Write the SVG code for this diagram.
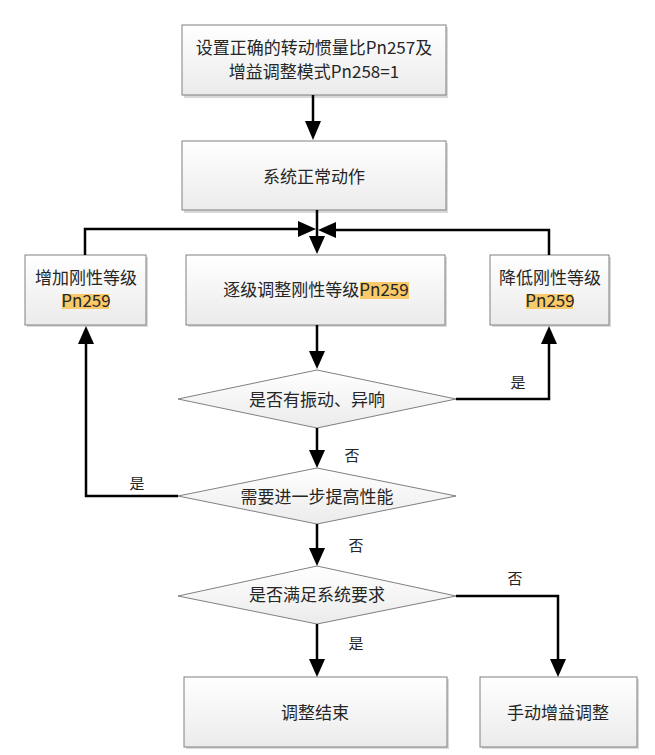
<svg xmlns="http://www.w3.org/2000/svg" width="655" height="755" viewBox="0 0 655 755">
<defs>
<linearGradient id="g" x1="0" y1="0" x2="0" y2="1">
<stop offset="0" stop-color="#ffffff"/>
<stop offset="1" stop-color="#ebebeb"/>
</linearGradient>
</defs>
<style>
.box{fill:url(#g);stroke:#808080;stroke-width:1}
.sh{fill:#d9d9d9}
.t{font-family:"Noto Sans CJK SC","Microsoft YaHei",sans-serif;font-size:17px;fill:#262626;text-anchor:middle}
.lb{font-family:"Noto Sans CJK SC",sans-serif;font-size:15px;fill:#262626;text-anchor:middle}
.hl{fill:#f9c96a}
.c{fill:none;stroke:#000;stroke-width:2.5}
.ahd{fill:#000}
</style>
<rect width="655" height="755" fill="#fff"/>

<g id="n1">
<rect class="sh" x="184" y="27" width="264" height="71"/>
<rect class="box" x="182" y="25" width="264" height="70"/>
<text class="t" x="314" y="54">设置正确的转动惯量比Pn257及</text>
<text class="t" x="314" y="78">增益调整模式Pn258=1</text>
</g>
<g id="n2">
<rect class="sh" x="184" y="143" width="264" height="70"/>
<rect class="box" x="182" y="141" width="264" height="69"/>
<text class="t" x="314" y="183">系统正常动作</text>
</g>
<g id="n3">
<rect class="sh" x="27" y="257" width="121" height="70"/>
<rect class="box" x="25" y="255" width="121" height="70"/>
<text class="t" x="86" y="284">增加刚性等级</text>
<rect class="hl" x="62" y="294" width="47" height="15"/>
<text class="t" x="86" y="307">Pn259</text>
</g>
<g id="n4">
<rect class="sh" x="188" y="257" width="259" height="70"/>
<rect class="box" x="186" y="255" width="259" height="70"/>
<rect class="hl" x="360" y="282" width="49" height="17"/>
<text class="t" x="316" y="296">逐级调整刚性等级Pn259</text>
</g>
<g id="n5">
<rect class="sh" x="492" y="257" width="119" height="70"/>
<rect class="box" x="490" y="255" width="119" height="70"/>
<text class="t" x="550" y="284">降低刚性等级</text>
<rect class="hl" x="526" y="294" width="47" height="15"/>
<text class="t" x="550" y="307">Pn259</text>
</g>
<g id="d1">
<polygon points="178,399 317,370 456,399 317,428" fill="url(#g)" stroke="#808080"/>
<text class="t" x="317" y="406">是否有振动、异响</text>
</g>
<g id="d2">
<polygon points="178,496 317,468 456,496 317,524" fill="url(#g)" stroke="#808080"/>
<text class="t" x="317" y="503">需要进一步提高性能</text>
</g>
<g id="d3">
<polygon points="178,596 317,566 456,596 317,624" fill="url(#g)" stroke="#808080"/>
<text class="t" x="317" y="601">是否满足系统要求</text>
</g>
<g id="n6">
<rect class="sh" x="186" y="679" width="263" height="70"/>
<rect class="box" x="184" y="677" width="263" height="70"/>
<text class="t" x="315" y="719">调整结束</text>
</g>
<g id="n7">
<rect class="sh" x="482" y="679" width="157" height="70"/>
<rect class="box" x="480" y="677" width="157" height="70"/>
<text class="t" x="558" y="719">手动增益调整</text>
</g>

<g id="connectors">
<line class="c" x1="313" y1="95" x2="313" y2="121"/>
<polygon class="ahd" points="305,121 321,121 313,140"/>
<line class="c" x1="317" y1="210" x2="317" y2="236"/>
<polygon class="ahd" points="309,236 325,236 317,254"/>
<polyline class="c" points="85,255 85,229 298,229"/>
<polygon class="ahd" points="298,221 298,237 316,229"/>
<polyline class="c" points="549,255 549,230 336,230"/>
<polygon class="ahd" points="336,222 336,238 318,230"/>
<line class="c" x1="317" y1="325" x2="317" y2="351"/>
<polygon class="ahd" points="309,351 325,351 317,369"/>
<polyline class="c" points="456,399 549,399 549,344"/>
<polygon class="ahd" points="541,344 557,344 549,326"/>
<text class="lb" x="518" y="388">是</text>
<line class="c" x1="317" y1="428" x2="317" y2="450"/>
<polygon class="ahd" points="309,450 325,450 317,468"/>
<text class="lb" x="352" y="461">否</text>
<polyline class="c" points="178,496 86,496 86,344"/>
<polygon class="ahd" points="78,344 94,344 86,326"/>
<text class="lb" x="137" y="489">是</text>
<line class="c" x1="317" y1="524" x2="317" y2="548"/>
<polygon class="ahd" points="309,548 325,548 317,566"/>
<text class="lb" x="356" y="551">否</text>
<line class="c" x1="317" y1="624" x2="317" y2="659"/>
<polygon class="ahd" points="309,659 325,659 317,677"/>
<text class="lb" x="356" y="649">是</text>
<polyline class="c" points="456,596 558,596 558,659"/>
<polygon class="ahd" points="550,659 566,659 558,677"/>
<text class="lb" x="515" y="584">否</text>
</g>
</svg>
